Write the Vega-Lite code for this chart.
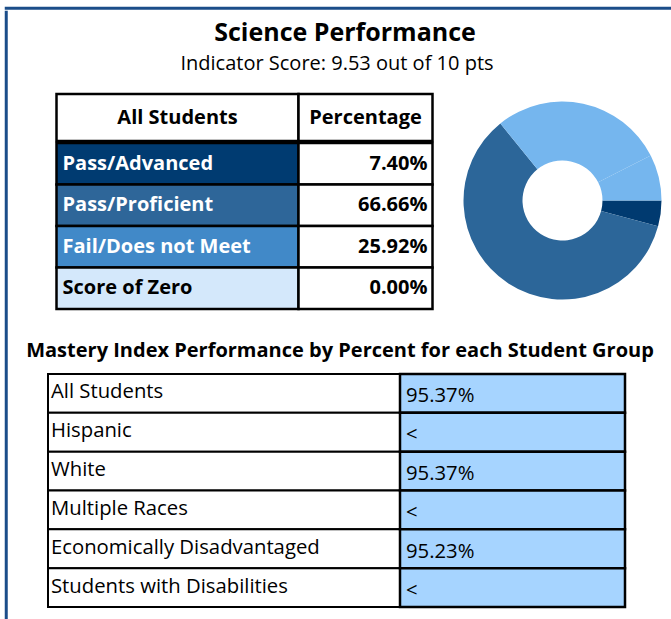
{
  "$schema": "https://vega.github.io/schema/vega-lite/v6.json",
  "padding": {"left": 4, "top": 6, "right": 0, "bottom": 0},
  "background": "white",
  "spacing": 0,
  "config": {
    "font": "Open Sans",
    "view": {"stroke": null},
    "text": {"color": "black", "font": "Open Sans"}
  },
  "datasets": {
    "heading": [
      {"kind": "title", "line": "Science Performance"},
      {"kind": "subtitle", "line": "Indicator Score: 9.53 out of 10 pts"}
    ],
    "perf": [
      {"cat": "All Students", "val": "Percentage", "kind": "header", "pct": null},
      {"cat": "Pass/Advanced", "val": "7.40%", "kind": "row", "pct": 7.40},
      {"cat": "Pass/Proficient", "val": "66.66%", "kind": "row", "pct": 66.66},
      {"cat": "Fail/Does not Meet", "val": "25.92%", "kind": "row", "pct": 25.92},
      {"cat": "Score of Zero", "val": "0.00%", "kind": "row", "pct": 0.00}
    ],
    "donut": [
      {"slice": "s1", "group": "Pass/Advanced", "share": 4.2, "order": 1},
      {"slice": "s2", "group": "Pass/Proficient", "share": 60.0, "order": 2},
      {"slice": "s3", "group": "Fail/Does not Meet", "share": 28.3, "order": 3},
      {"slice": "s4", "group": "Fail/Does not Meet", "share": 7.5, "order": 4}
    ],
    "mastery": [
      {"group": "All Students", "value": "95.37%"},
      {"group": "Hispanic", "value": "<"},
      {"group": "White", "value": "95.37%"},
      {"group": "Multiple Races", "value": "<"},
      {"group": "Economically Disadvantaged", "value": "95.23%"},
      {"group": "Students with Disabilities", "value": "<"}
    ]
  },
  "vconcat": [
    {
      "width": 700, "height": 0.5,
      "view": {"stroke": "#1B4D89", "strokeWidth": 2.5},
      "data": {"values": []},
      "mark": "point"
    },
    {
      "spacing": 18,
      "hconcat": [
        {
          "width": 0.5, "height": 640,
          "view": {"stroke": "#1B4D89", "strokeWidth": 2.5},
          "data": {"values": []},
          "mark": "point"
        },
        {
          "spacing": 0,
          "vconcat": [
            {
              "width": 586, "height": 80,
              "data": {"name": "heading"},
              "encoding": {
                "y": {"field": "kind", "type": "nominal", "sort": null, "axis": null, "scale": {"paddingInner": 0, "paddingOuter": 0}},
                "x": {"datum": "heading", "type": "nominal", "axis": null, "scale": {"paddingInner": 0, "paddingOuter": 0}, "bandPosition": 0.5}
              },
              "layer": [
                {
                  "transform": [{"filter": "datum.kind == 'title'"}],
                  "mark": {"type": "text", "fontSize": 25, "fontWeight": "bold", "align": "center", "baseline": "middle", "dx": 4, "dy": 1},
                  "encoding": {"text": {"field": "line"}}
                },
                {
                  "transform": [{"filter": "datum.kind == 'subtitle'"}],
                  "mark": {"type": "text", "fontSize": 20, "align": "center", "baseline": "middle", "dx": -4, "dy": -8},
                  "encoding": {"text": {"field": "line"}}
                }
              ]
            },
            {
              "spacing": 5.5,
              "hconcat": [
                {
                  "width": 0.5, "height": 10,
                  "data": {"values": []},
                  "mark": "point"
                },
                {
                  "spacing": 28,
                  "hconcat": [
                    {
                      "spacing": -2.5,
                      "vconcat": [
                        {
                          "spacing": 0,
                          "bounds": "flush",
                          "hconcat": [
                            {
                              "width": 242, "height": 47,
                              "data": {"name": "perf"},
                              "transform": [{"filter": "datum.kind == 'header'"}],
                              "layer": [
                                {"mark": {"type": "rect", "stroke": "black", "strokeWidth": 2.5, "fill": "white"}},
                                {"mark": {"type": "text", "fontWeight": "bold", "fontSize": 20, "align": "center", "baseline": "middle"},
                                 "encoding": {"text": {"field": "cat"}}}
                              ]
                            },
                            {
                              "width": 134, "height": 47,
                              "data": {"name": "perf"},
                              "transform": [{"filter": "datum.kind == 'header'"}],
                              "layer": [
                                {"mark": {"type": "rect", "stroke": "black", "strokeWidth": 2.5, "fill": "white"}},
                                {"mark": {"type": "text", "fontWeight": "bold", "fontSize": 20, "align": "center", "baseline": "middle"},
                                 "encoding": {"text": {"field": "val"}}}
                              ]
                            }
                          ]
                        },
                        {
                          "spacing": 0,
                          "bounds": "flush",
                          "hconcat": [
                            {
                              "width": 242, "height": 166,
                              "data": {"name": "perf"},
                              "transform": [{"filter": "datum.kind == 'row'"}],
                              "encoding": {
                                "y": {"field": "cat", "type": "nominal", "sort": null, "axis": null, "scale": {"paddingInner": 0, "paddingOuter": 0}},
                                "x": {"datum": "All Students", "type": "nominal", "axis": null, "scale": {"paddingInner": 0, "paddingOuter": 0}}
                              },
                              "layer": [
                                {
                                  "mark": {"type": "rect", "stroke": "black", "strokeWidth": 2.5},
                                  "encoding": {
                                    "fill": {"field": "cat", "type": "nominal", "legend": null,
                                      "scale": {"domain": ["Pass/Advanced", "Pass/Proficient", "Fail/Does not Meet", "Score of Zero"],
                                                "range": ["#003B71", "#2E6699", "#4189C8", "#D4E8FB"]}}
                                  }
                                },
                                {
                                  "mark": {"type": "text", "fontWeight": "bold", "fontSize": 20, "align": "left", "baseline": "middle", "dx": 6},
                                  "encoding": {
                                    "text": {"field": "cat"},
                                    "x": {"datum": "All Students", "type": "nominal", "bandPosition": 0},
                                    "color": {"condition": {"test": "datum.cat == 'Score of Zero'", "value": "black"}, "value": "white"}
                                  }
                                }
                              ]
                            },
                            {
                              "width": 134, "height": 166,
                              "data": {"name": "perf"},
                              "transform": [{"filter": "datum.kind == 'row'"}],
                              "encoding": {
                                "y": {"field": "cat", "type": "nominal", "sort": null, "axis": null, "scale": {"paddingInner": 0, "paddingOuter": 0}},
                                "x": {"datum": "Percentage", "type": "nominal", "axis": null, "scale": {"paddingInner": 0, "paddingOuter": 0}}
                              },
                              "layer": [
                                {"mark": {"type": "rect", "stroke": "black", "strokeWidth": 2.5, "fill": "white"}},
                                {
                                  "mark": {"type": "text", "fontWeight": "bold", "fontSize": 20, "align": "right", "baseline": "middle", "dx": -5},
                                  "encoding": {"text": {"field": "val"}, "x": {"datum": "Percentage", "type": "nominal", "bandPosition": 1}}
                                }
                              ]
                            }
                          ]
                        }
                      ]
                    },
                    {
                      "width": 200, "height": 213,
                      "data": {"name": "donut"},
                      "mark": {"type": "arc", "outerRadius": 99, "innerRadius": 40},
                      "encoding": {
                        "theta": {"field": "share", "type": "quantitative", "stack": true, "scale": {"range": [1.5708, 7.8540]}},
                        "order": {"field": "order", "type": "quantitative"},
                        "color": {"field": "group", "type": "nominal", "legend": null,
                          "scale": {"domain": ["Pass/Advanced", "Pass/Proficient", "Fail/Does not Meet"], "range": ["#003A70", "#2C6699", "#75B6EE"]}}
                      }
                    }
                  ]
                }
              ]
            },
            {
              "width": 586, "height": 61,
              "data": {"values": [{"line": "Mastery Index Performance by Percent for each Student Group"}]},
              "mark": {"type": "text", "fontSize": 20, "fontWeight": "bold", "align": "center", "baseline": "middle", "dx": -1, "dy": 9},
              "encoding": {
                "text": {"field": "line"},
                "x": {"datum": "heading", "type": "nominal", "axis": null, "scale": {"paddingInner": 0, "paddingOuter": 0}, "bandPosition": 0.5},
                "y": {"datum": "heading", "type": "nominal", "axis": null, "scale": {"paddingInner": 0, "paddingOuter": 0}, "bandPosition": 0.5}
              }
            },
            {
              "spacing": 0,
              "bounds": "flush",
              "hconcat": [
                {
                  "width": 352, "height": 233,
                  "data": {"name": "mastery"},
                  "encoding": {
                    "y": {"field": "group", "type": "nominal", "sort": null, "axis": null, "scale": {"paddingInner": 0, "paddingOuter": 0}},
                    "x": {"datum": "Group", "type": "nominal", "axis": null, "scale": {"paddingInner": 0, "paddingOuter": 0}}
                  },
                  "layer": [
                    {"mark": {"type": "rect", "stroke": "black", "strokeWidth": 2, "fill": "white"}},
                    {
                      "mark": {"type": "text", "fontSize": 20.3, "align": "left", "baseline": "middle", "dx": 3, "dy": -1},
                      "encoding": {"text": {"field": "group"}, "x": {"datum": "Group", "type": "nominal", "bandPosition": 0}}
                    }
                  ]
                },
                {
                  "width": 225, "height": 233,
                  "data": {"name": "mastery"},
                  "encoding": {
                    "y": {"field": "group", "type": "nominal", "sort": null, "axis": null, "scale": {"paddingInner": 0, "paddingOuter": 0}},
                    "x": {"datum": "Value", "type": "nominal", "axis": null, "scale": {"paddingInner": 0, "paddingOuter": 0}}
                  },
                  "layer": [
                    {"mark": {"type": "rect", "stroke": "black", "strokeWidth": 2.5, "fill": "#A6D4FF"}},
                    {
                      "mark": {"type": "text", "fontSize": 20.3, "align": "left", "baseline": "middle", "dx": 6, "dy": 3},
                      "encoding": {"text": {"field": "value"}, "x": {"datum": "Value", "type": "nominal", "bandPosition": 0}}
                    }
                  ]
                }
              ]
            }
          ]
        }
      ]
    }
  ]
}
